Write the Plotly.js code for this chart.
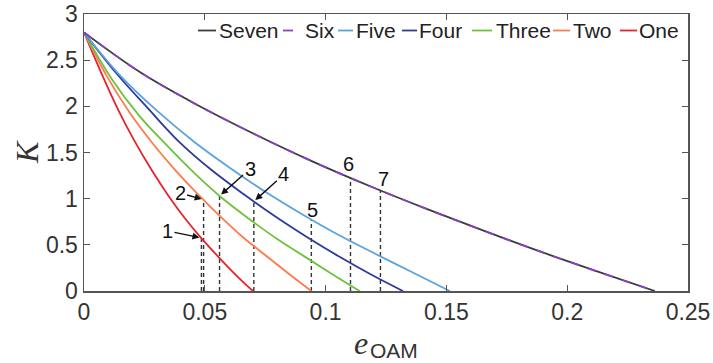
<!DOCTYPE html>
<html>
<head>
<meta charset="utf-8">
<script src="https://cdn.plot.ly/plotly-3.0.1.min.js"></script>
<style>
  html, body { margin: 0; padding: 0; background: #fff; }
  #chart { width: 713px; height: 363px; }
</style>
</head>
<body>
<div id="chart"></div>
<script>
// K versus e_OAM for one to seven modes
const xOne   = [0, 0.007, 0.014, 0.021, 0.028, 0.035, 0.042, 0.049, 0.056, 0.063, 0.0699];
const kOne   = [2.80, 2.37, 1.97, 1.62, 1.31, 1.03, 0.78, 0.56, 0.36, 0.17, 0];

const xTwo   = [0, 0.0094, 0.0188, 0.0282, 0.0376, 0.047, 0.0564, 0.0658, 0.0752, 0.0846, 0.0941];
const kTwo   = [2.80, 2.33, 1.935, 1.606, 1.315, 1.052, 0.808, 0.582, 0.385, 0.19, 0];

const xThree = [0, 0.0114, 0.0228, 0.0342, 0.0456, 0.057, 0.0684, 0.0798, 0.0912, 0.1026, 0.1141];
const kThree = [2.80, 2.30, 1.90, 1.58, 1.28, 1.01, 0.78, 0.566, 0.375, 0.185, 0];

const xFour  = [0, 0.0132, 0.0264, 0.0396, 0.0528, 0.066, 0.0792, 0.0924, 0.1056, 0.1188, 0.132];
const kFour  = [2.80, 2.364, 1.98, 1.61, 1.31, 1.05, 0.806, 0.582, 0.373, 0.178, 0];

const xFive  = [0, 0.0151, 0.0303, 0.0454, 0.0606, 0.0757, 0.0908, 0.106, 0.1211, 0.1363, 0.1514];
const kFive  = [2.80, 2.33, 1.95, 1.62, 1.33, 1.063, 0.823, 0.598, 0.396, 0.198, 0];

const xSix   = [0, 0.0236, 0.0473, 0.0709, 0.0945, 0.1182, 0.1418, 0.1654, 0.189, 0.2127, 0.2363];
const kSix   = [2.80, 2.363, 2.009, 1.695, 1.404, 1.137, 0.889, 0.653, 0.426, 0.209, 0];

const xSeven = [0, 0.0236, 0.0473, 0.0709, 0.0945, 0.1182, 0.1418, 0.1654, 0.189, 0.2127, 0.2363];
const kSeven = [2.80, 2.363, 2.009, 1.695, 1.404, 1.137, 0.889, 0.653, 0.426, 0.209, 0];

// numbered operating points, each with a dashed drop line to K = 0
const markLabel = ['1', '2', '3', '4', '5', '6', '7'];
const markX = [0.0486, 0.0495, 0.0561, 0.0703, 0.0941, 0.1103, 0.1227];
const markK = [0.575, 0.99, 1.03, 0.97, 0.774, 1.225, 1.09];

const xTickVals = [0, 0.05, 0.1, 0.15, 0.2, 0.25];
const xTickText = ['0', '0.05', '0.1', '0.15', '0.2', '0.25'];
const yTickVals = [0, 0.5, 1, 1.5, 2, 2.5, 3];
const yTickText = ['0', '0.5', '1', '1.5', '2', '2.5', '3'];

const seriesNames = ['Seven', 'Six', 'Five', 'Four', 'Three', 'Two', 'One'];

// ---- styling ----
const SANS = 'Liberation Sans, Arial, Helvetica, sans-serif';
const SERIF = 'Liberation Serif, Times New Roman, serif';
const AXIS = '#555555';
const style = {
  Seven: { color: '#3c3c3c', dash: 'solid' },
  Six:   { color: '#8a3fc9', dash: '9px,9px' },
  Five:  { color: '#5ba3de', dash: 'solid' },
  Four:  { color: '#2e3a9c', dash: 'solid' },
  Three: { color: '#6cc23c', dash: 'solid' },
  Two:   { color: '#ff7a4c', dash: 'solid' },
  One:   { color: '#e6242b', dash: 'solid' }
};
const seriesData = {
  Seven: [xSeven, kSeven], Six: [xSix, kSix], Five: [xFive, kFive],
  Four: [xFour, kFour], Three: [xThree, kThree], Two: [xTwo, kTwo], One: [xOne, kOne]
};

// plot box in pixels
const M = { l: 84, r: 25, t: 14, b: 72 };
const W = 713, H = 363;
const plotW = W - M.l - M.r, plotH = H - M.t - M.b;
const pxX = p => (p - M.l) / plotW;
const pxY = p => (H - M.b - p) / plotH;

const traces = [];

// drop lines
const dropX = [], dropY = [];
markX.forEach((x, i) => { dropX.push(x, x, null); dropY.push(0, markK[i], null); });
traces.push({
  x: dropX, y: dropY, type: 'scatter', mode: 'lines', showlegend: false, hoverinfo: 'skip',
  line: { color: '#333333', width: 1.4, dash: '4px,3px' }
});

// curves, drawn so that Six lies over Seven
['One', 'Two', 'Three', 'Four', 'Five', 'Seven', 'Six'].forEach(name => {
  traces.push({
    x: seriesData[name][0], y: seriesData[name][1], name: name,
    type: 'scatter', mode: 'lines', showlegend: false,
    line: { color: style[name].color, width: 1.8, dash: style[name].dash, shape: 'spline', smoothing: 1 }
  });
});

const annotations = [];
const shapes = [];

// numbered labels: 1-4 with arrows, 5-7 just above their drop lines
const arrowOffsets = [[-34, -7], [-23.5, -6.5], [30.5, -27], [30, -27]];
const textShifts = [[1, 10], [-2, 13.5], [3, 11.5]];
markLabel.forEach((lab, i) => {
  const base = {
    x: markX[i], y: markK[i], xref: 'x', yref: 'y', text: lab,
    font: { family: SANS, size: 20, color: '#111' }
  };
  if (i < 4) {
    Object.assign(base, {
      showarrow: true, ax: arrowOffsets[i][0], ay: arrowOffsets[i][1],
      arrowhead: 2, arrowsize: 1, arrowwidth: 1.4, arrowcolor: '#111', standoff: 2
    });
  } else {
    const s = textShifts[i - 4];
    Object.assign(base, { showarrow: false, xshift: s[0], yshift: s[1], yanchor: 'middle' });
  }
  annotations.push(base);
});

// key along the top edge
const keyLineStart = [198, 283, 338, 402, 472, 553, 620];
const keyLineEnd   = [216, 293, 353, 417, 492, 570, 637];
const keyTextStart = [217, 303, 354, 417, 494, 571, 637];
const keyLineY = 30.5, keyTextY = 31;
seriesNames.forEach((name, i) => {
  shapes.push({
    type: 'line', xref: 'paper', yref: 'paper',
    x0: pxX(keyLineStart[i]), x1: pxX(keyLineEnd[i]),
    y0: pxY(keyLineY), y1: pxY(keyLineY),
    line: { color: style[name].color, width: 1.8 }
  });
  annotations.push({
    xref: 'paper', yref: 'paper', x: pxX(keyTextStart[i]), y: pxY(keyTextY),
    xanchor: 'left', yanchor: 'middle', showarrow: false, text: name,
    font: { family: SANS, size: 21, color: '#222' }
  });
});

// axis titles: K (rotated) and e with subscript OAM
annotations.push({
  xref: 'paper', yref: 'paper', x: pxX(27), y: pxY(152), xanchor: 'center', yanchor: 'middle',
  showarrow: false, textangle: -90, text: '<i>K</i>',
  font: { family: SERIF, size: 32, color: '#333' }
});
annotations.push({
  xref: 'paper', yref: 'paper', x: pxX(370), y: pxY(343), xanchor: 'right', yanchor: 'middle',
  showarrow: false, text: '<i>e</i>',
  font: { family: SERIF, size: 32, color: '#333' }
});
annotations.push({
  xref: 'paper', yref: 'paper', x: pxX(368), y: pxY(350), xanchor: 'left', yanchor: 'middle',
  showarrow: false, text: 'OAM',
  font: { family: SANS, size: 21, color: '#333' }
});

const axisCommon = {
  showline: true, linecolor: AXIS, linewidth: 1.5, mirror: 'ticks',
  ticks: 'inside', ticklen: 6, tickwidth: 1.3, tickcolor: AXIS,
  showgrid: false, zeroline: false,
  tickfont: { family: SANS, size: 23, color: '#333' }
};

const layout = {
  width: W, height: H, margin: M,
  paper_bgcolor: '#ffffff', plot_bgcolor: '#ffffff',
  showlegend: false,
  xaxis: Object.assign({}, axisCommon, {
    range: [0, 0.25], tickvals: xTickVals, ticktext: xTickText
  }),
  yaxis: Object.assign({}, axisCommon, {
    range: [0, 3], tickvals: yTickVals, ticktext: yTickText
  }),
  annotations: annotations,
  shapes: shapes
};

Plotly.newPlot('chart', traces, layout, { displayModeBar: false, staticPlot: true });
</script>
</body>
</html>
